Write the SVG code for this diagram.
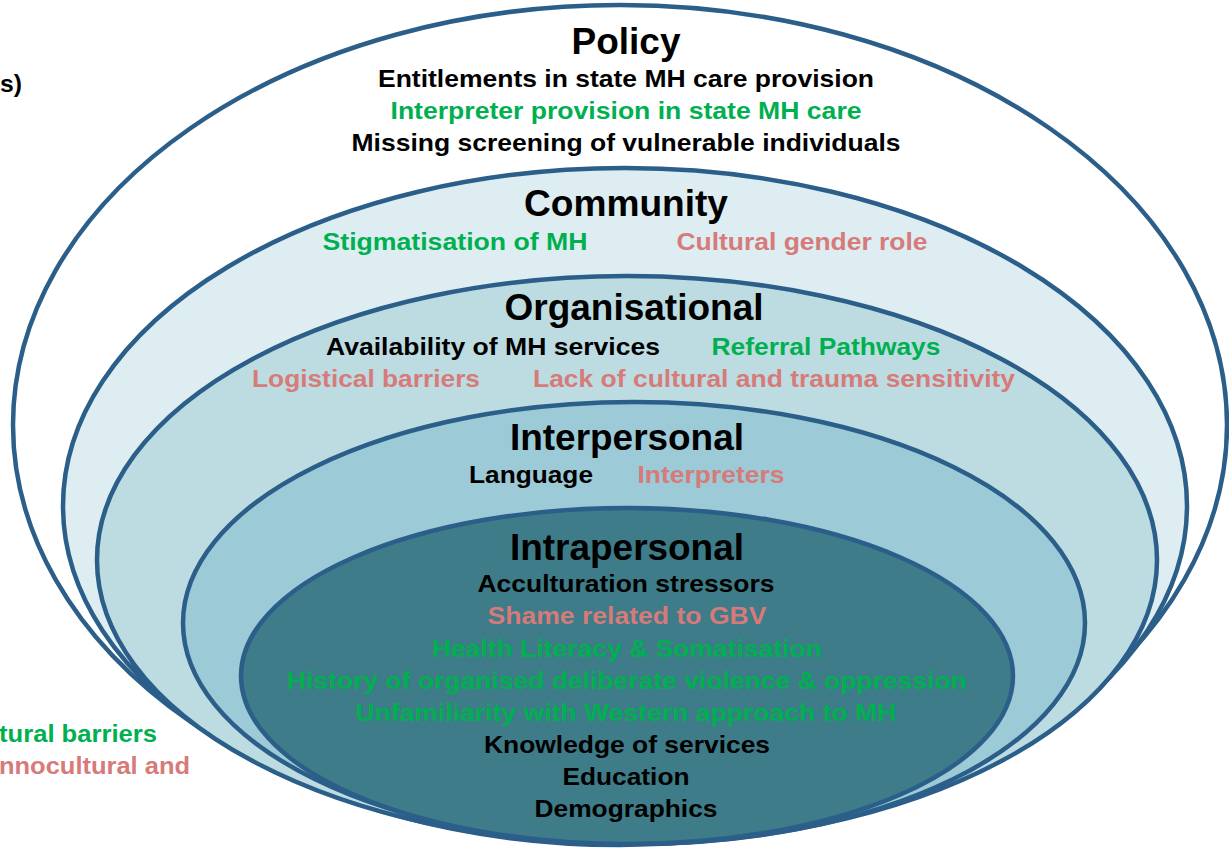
<svg xmlns="http://www.w3.org/2000/svg" width="1229" height="848" viewBox="0 0 1229 848">
<style>
.ring{stroke:#2B5F8A;stroke-width:4.5}
text{font-family:"Liberation Sans Narrow","Liberation Sans",Arial,sans-serif;font-weight:bold;text-anchor:middle}
.h{font-size:37px;fill:#000}
.t{font-size:24px}
.k{fill:#000}
.g{fill:#00B050}
.p{fill:#D77A7A}
</style>
<rect width="1229" height="848" fill="#fff"/>
<g id="side-texts">
<text class="t k" x="22" y="92" style="text-anchor:end" textLength="22" lengthAdjust="spacingAndGlyphs">s)</text>
<text class="t g" x="157" y="742" style="text-anchor:end" textLength="158" lengthAdjust="spacingAndGlyphs">tural barriers</text>
<text class="t p" x="190" y="774" style="text-anchor:end" textLength="191" lengthAdjust="spacingAndGlyphs">nnocultural and</text>
</g>
<g id="policy">
<ellipse class="ring" cx="620" cy="425" rx="607" ry="420" fill="#fff"/>
<text class="h" x="626" y="54" textLength="109" lengthAdjust="spacingAndGlyphs">Policy</text>
<text class="t k" x="626" y="87" textLength="496" lengthAdjust="spacingAndGlyphs">Entitlements in state MH care provision</text>
<text class="t g" x="626" y="119" textLength="471" lengthAdjust="spacingAndGlyphs">Interpreter provision in state MH care</text>
<text class="t k" x="626" y="151" textLength="549" lengthAdjust="spacingAndGlyphs">Missing screening of vulnerable individuals</text>
</g>
<g id="community">
<ellipse class="ring" cx="625" cy="506" rx="562" ry="338" fill="#DDEDF1"/>
<text class="h" x="626" y="216" textLength="204" lengthAdjust="spacingAndGlyphs">Community</text>
<text class="t g" x="455" y="250" textLength="265" lengthAdjust="spacingAndGlyphs">Stigmatisation of MH</text>
<text class="t p" x="802" y="250" textLength="251" lengthAdjust="spacingAndGlyphs">Cultural gender role</text>
</g>
<g id="organisational">
<ellipse class="ring" cx="627" cy="560" rx="530" ry="284" fill="#BDDCE1"/>
<text class="h" x="634" y="320" textLength="259" lengthAdjust="spacingAndGlyphs">Organisational</text>
<text class="t k" x="493" y="355" textLength="334" lengthAdjust="spacingAndGlyphs">Availability of MH services</text>
<text class="t g" x="826" y="355" textLength="229" lengthAdjust="spacingAndGlyphs">Referral Pathways</text>
<text class="t p" x="366" y="387" textLength="228" lengthAdjust="spacingAndGlyphs">Logistical barriers</text>
<text class="t p" x="774" y="387" textLength="482" lengthAdjust="spacingAndGlyphs">Lack of cultural and trauma sensitivity</text>
</g>
<g id="interpersonal">
<ellipse class="ring" cx="634" cy="623" rx="451" ry="221" fill="#9CCAD6"/>
<text class="h" x="627" y="450" textLength="234" lengthAdjust="spacingAndGlyphs">Interpersonal</text>
<text class="t k" x="531" y="483" textLength="124" lengthAdjust="spacingAndGlyphs">Language</text>
<text class="t p" x="711" y="483" textLength="147" lengthAdjust="spacingAndGlyphs">Interpreters</text>
</g>
<g id="intrapersonal">
<ellipse class="ring" cx="627" cy="676" rx="386" ry="168" fill="#3D7C88"/>
<text class="h" x="627" y="560" textLength="234" lengthAdjust="spacingAndGlyphs">Intrapersonal</text>
<text class="t k" x="626" y="592" textLength="297" lengthAdjust="spacingAndGlyphs">Acculturation stressors</text>
<text class="t p" x="627" y="624" textLength="279" lengthAdjust="spacingAndGlyphs">Shame related to GBV</text>
<text class="t g" x="627" y="657" textLength="390" lengthAdjust="spacingAndGlyphs">Health Literacy &amp; Somatisation</text>
<text class="t g" x="627" y="689" textLength="680" lengthAdjust="spacingAndGlyphs">History of organised deliberate violence &amp; oppression</text>
<text class="t g" x="626" y="721" textLength="541" lengthAdjust="spacingAndGlyphs">Unfamiliarity with Western approach to MH</text>
<text class="t k" x="627" y="753" style="font-family:'Liberation Sans',Arial,sans-serif" textLength="286" lengthAdjust="spacingAndGlyphs">Knowledge of services</text>
<text class="t k" x="626" y="785" style="font-family:'Liberation Sans',Arial,sans-serif" textLength="127" lengthAdjust="spacingAndGlyphs">Education</text>
<text class="t k" x="626" y="817" style="font-family:'Liberation Sans',Arial,sans-serif" textLength="183" lengthAdjust="spacingAndGlyphs">Demographics</text>
</g>
</svg>
